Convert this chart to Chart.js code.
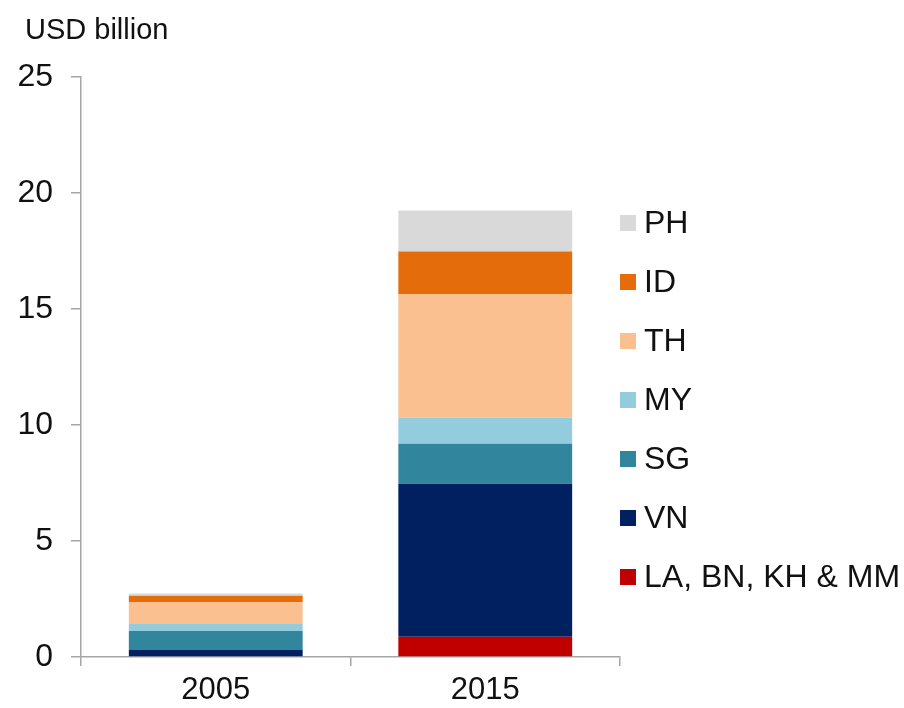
<!DOCTYPE html>
<html>
<head>
<meta charset="utf-8">
<script src="https://cdn.jsdelivr.net/npm/chart.js@4"></script>
<style>
  body { margin: 0; background: #fff; font-family: "Liberation Sans", Arial, sans-serif; }
  #wrap { position: relative; width: 904px; height: 708px; }
  #unit { position: absolute; left: 25px; top: 13px; font-size: 29px; color: #111; }
  #legend { position: absolute; left: 620px; top: 193px; }
  .row { height: 59px; display: flex; align-items: center; font-size: 32px; color: #111; white-space: nowrap; }
  .sw { width: 16px; height: 16px; margin-right: 8px; flex: none; }
</style>
</head>
<body>
<div id="wrap">
  <canvas id="chart" width="904" height="708"></canvas>
  <div id="unit">USD billion</div>
  <div id="legend"></div>
</div>
<script>
// categories and series (bottom of the stack first)
const years = ['2005', '2015'];
const seriesNames = ['LA, BN, KH & MM', 'VN', 'SG', 'MY', 'TH', 'ID', 'PH'];
const laBnKhMm = [0, 0.87];
const vn = [0.30, 6.60];
const sg = [0.82, 1.72];
const my = [0.30, 1.12];
const th = [0.95, 5.34];
const id = [0.27, 1.83];
const ph = [0.10, 1.77];
const seriesColors = ['#c00000', '#002060', '#31859c', '#93cddd', '#fac090', '#e46c0a', '#d9d9d9'];
const yTicks = [0, 5, 10, 15, 20, 25];

const seriesValues = [laBnKhMm, vn, sg, my, th, id, ph];
const axisColor = '#a6a6a6';

const datasets = seriesNames.map((name, i) => ({
  label: name,
  data: seriesValues[i],
  backgroundColor: seriesColors[i],
  borderWidth: 0,
  barPercentage: 0.645,
  categoryPercentage: 1.0
}));

const ctx = document.getElementById('chart').getContext('2d');
new Chart(ctx, {
  type: 'bar',
  data: { labels: years, datasets },
  options: {
    responsive: false,
    animation: false,
    layout: { padding: { top: 77, right: 284, bottom: 0, left: 0 } },
    plugins: { legend: { display: false }, tooltip: { enabled: false } },
    scales: {
      x: {
        stacked: true,
        grid: { offset: true, drawOnChartArea: false, drawTicks: true, tickLength: 9, color: axisColor, lineWidth: 1.5 },
        border: { color: axisColor, width: 1.5 },
        ticks: { color: '#111', font: { family: 'Liberation Sans', size: 31 }, padding: 6 },
        afterFit: s => { s.height = 51; }
      },
      y: {
        stacked: true,
        min: yTicks[0],
        max: yTicks[yTicks.length - 1],
        grid: { drawOnChartArea: false, drawTicks: true, tickLength: 10, color: axisColor, lineWidth: 1.5 },
        border: { color: axisColor, width: 1.5 },
        ticks: {
          stepSize: 5,
          color: '#111',
          font: { family: 'Liberation Sans', size: 32 },
          padding: 18
        },
        afterBuildTicks: s => { s.ticks = yTicks.map(v => ({ value: v })); },
        afterFit: s => { s.width = 81; }
      }
    }
  }
});

// legend, top to bottom in reverse stack order
const legend = document.getElementById('legend');
for (let i = seriesNames.length - 1; i >= 0; i--) {
  const row = document.createElement('div');
  row.className = 'row';
  const sw = document.createElement('span');
  sw.className = 'sw';
  sw.style.background = seriesColors[i];
  row.appendChild(sw);
  row.appendChild(document.createTextNode(seriesNames[i]));
  legend.appendChild(row);
}
</script>
</body>
</html>
